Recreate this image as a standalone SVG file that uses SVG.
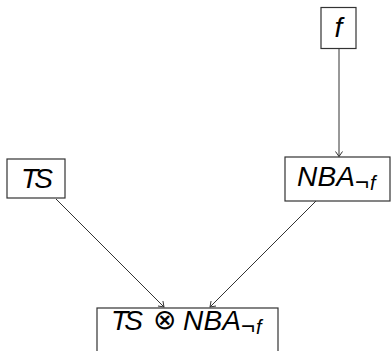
<svg xmlns="http://www.w3.org/2000/svg" width="391" height="351" viewBox="0 0 391 351">
<style>
.box{fill:#fff;stroke:#333;stroke-width:1.2}
.t{font-family:"Liberation Sans","DejaVu Sans",sans-serif;font-style:italic;font-size:28px;fill:#000}
.s{font-size:20px}
.neg{font-style:normal;font-size:24px}
.op{font-family:"DejaVu Sans",sans-serif;font-style:normal;font-weight:200;font-size:28px}
.c{stroke:#333;stroke-width:1;fill:none}
</style>
<defs>
<marker id="ah" markerWidth="10" markerHeight="10" refX="0" refY="0" viewBox="-6 -5 8 10" orient="auto" markerUnits="userSpaceOnUse">
<path d="M-5,-3.5 L0,0 L-5,3.5" fill="none" stroke="#333" stroke-width="1"/>
</marker>
</defs>
<g id="connectors">
<line class="c" x1="339" y1="48" x2="339" y2="156.5" marker-end="url(#ah)"/>
<line class="c" x1="56" y1="199" x2="164" y2="307" marker-end="url(#ah)"/>
<line class="c" x1="316" y1="201" x2="210" y2="307" marker-end="url(#ah)"/>
</g>
<g id="f">
<rect class="box" x="321" y="7.5" width="35" height="41"/>
<text class="t" x="338.5" y="37" text-anchor="middle">f</text>
</g>
<g id="TS">
<rect class="box" x="7" y="159" width="58" height="39"/>
<text class="t" x="21" y="188" textLength="32">TS</text>
</g>
<g id="NBA">
<rect class="box" x="285" y="157" width="105" height="44"/>
<text class="t" x="297" y="186" textLength="58">NBA</text>
<text class="t s" x="355" y="190"><tspan class="neg">¬</tspan><tspan dx="1">f</tspan></text>
</g>
<g id="product">
<rect class="box" x="97" y="308" width="181" height="60"/>
<text class="t" x="111" y="330" textLength="32">TS</text>
<text class="op" x="164" y="329" text-anchor="middle">⊗</text>
<text class="t" x="183" y="330" textLength="58">NBA</text>
<text class="t s" x="241" y="334"><tspan class="neg">¬</tspan><tspan dx="1">f</tspan></text>
</g>
</svg>
